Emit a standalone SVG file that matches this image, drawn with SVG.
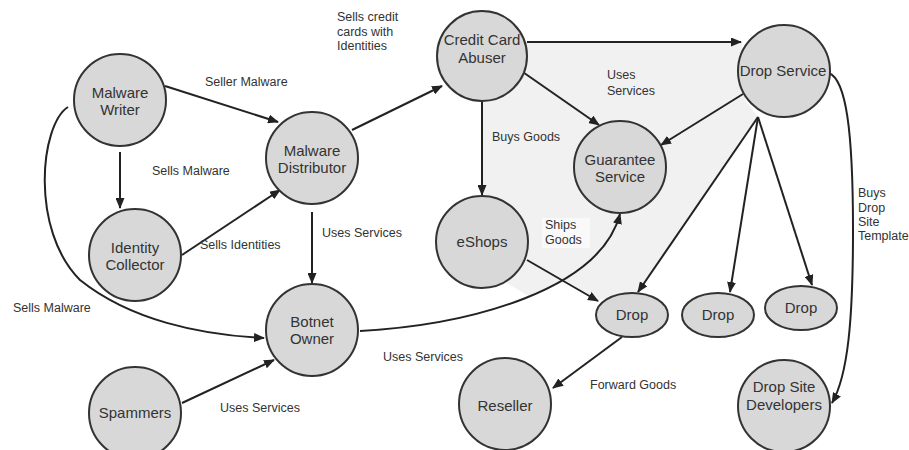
<svg xmlns="http://www.w3.org/2000/svg" width="909" height="450" viewBox="0 0 909 450">
<defs>
<style>
.n{fill:#d8d8d8;stroke:#333;stroke-width:2}
.nt{font-family:"Liberation Sans",Arial,sans-serif;font-size:15px;fill:#333;text-anchor:middle}
.e{fill:none;stroke:#222;stroke-width:2}
.a{marker-end:url(#ah)}
.l{font-family:"Liberation Sans",Arial,sans-serif;font-size:12.5px;fill:#333}
</style>
<marker id="ah" markerUnits="userSpaceOnUse" markerWidth="11" markerHeight="9" refX="10" refY="4.5" orient="auto">
<path d="M0,0 L11,4.5 L0,9 Z" fill="#222"/>
</marker>
</defs>
<rect width="909" height="450" fill="#fff"/>
<polygon points="483,42 742,42 745,100 758,117 640,292 598,300 566,281 530,297 505,282 483,240" fill="#f1f1f1"/>
<rect x="542" y="218" width="48" height="30" fill="#f9f9f9"/>

<g id="connectors">
<path class="e a" d="M165,86 L278,122"/>
<path class="e a" d="M120,152 L120,208"/>
<path class="e a" d="M182,255 L280,190"/>
<path class="e a" d="M312,212 L312,283"/>
<path class="e a" d="M352,130 L442,86"/>
<path class="e a" d="M68,107 C40,125 30,230 80,280 C130,320 200,335 264,338"/>
<path class="e a" d="M182,403 L274,360"/>
<path class="e a" d="M360,331 C470,325 600,290 620,214"/>
<path class="e a" d="M482,102 L482,195"/>
<path class="e a" d="M527,42 L741,42"/>
<path class="e a" d="M517,68 L599,125"/>
<path class="e a" d="M743,94 L661,145"/>
<path class="e a" d="M758,117 L638,292"/>
<path class="e a" d="M758,117 L730,292"/>
<path class="e a" d="M758,117 L812,285"/>
<path class="e a" d="M527,260 L598,301"/>
<path class="e a" d="M622,337 L553,388"/>
<path class="e a" d="M829,73 C846,80 853,130 853,230 C853,320 848,375 832,403"/>
</g>

<g id="malware-writer"><circle class="n" cx="120" cy="100" r="46"/><text class="nt" x="120" y="98">Malware</text><text class="nt" x="120" y="115">Writer</text></g>
<g id="identity-collector"><circle class="n" cx="135" cy="255" r="46"/><text class="nt" x="135" y="253">Identity</text><text class="nt" x="135" y="270">Collector</text></g>
<g id="malware-distributor"><circle class="n" cx="312" cy="158" r="46"/><text class="nt" x="312" y="156">Malware</text><text class="nt" x="312" y="173">Distributor</text></g>
<g id="botnet-owner"><circle class="n" cx="312" cy="330" r="46"/><text class="nt" x="312" y="327">Botnet</text><text class="nt" x="312" y="344">Owner</text></g>
<g id="spammers"><circle class="n" cx="135" cy="413" r="46"/><text class="nt" x="135" y="418">Spammers</text></g>
<g id="credit-card-abuser"><circle class="n" cx="482" cy="56" r="45"/><text class="nt" x="482" y="45">Credit Card</text><text class="nt" x="482" y="63">Abuser</text></g>
<g id="eshops"><circle class="n" cx="482" cy="242" r="46"/><text class="nt" x="482" y="247">eShops</text></g>
<g id="guarantee-service"><circle class="n" cx="620" cy="167" r="46"/><text class="nt" x="620" y="165">Guarantee</text><text class="nt" x="620" y="182">Service</text></g>
<g id="drop-service"><circle class="n" cx="784" cy="71" r="46"/><text class="nt" x="783" y="76">Drop Service</text></g>
<g id="drop-1"><ellipse class="n" cx="632" cy="315" rx="36" ry="22"/><text class="nt" x="632" y="320">Drop</text></g>
<g id="drop-2"><ellipse class="n" cx="718" cy="315" rx="36" ry="22"/><text class="nt" x="718" y="320">Drop</text></g>
<g id="drop-3"><ellipse class="n" cx="801" cy="308" rx="36" ry="22"/><text class="nt" x="801" y="313">Drop</text></g>
<g id="reseller"><circle class="n" cx="505" cy="404" r="46"/><text class="nt" x="505" y="411">Reseller</text></g>
<g id="drop-site-developers"><circle class="n" cx="784" cy="406" r="46"/><text class="nt" x="784" y="392">Drop Site</text><text class="nt" x="784" y="410">Developers</text></g>

<g id="labels">
<text class="l" x="205" y="86">Seller Malware</text>
<text class="l" x="152" y="175">Sells Malware</text>
<text class="l" x="200" y="249">Sells Identities</text>
<text class="l" x="13" y="312">Sells Malware</text>
<text class="l" x="322" y="237">Uses Services</text>
<text class="l" x="383" y="361">Uses Services</text>
<text class="l" x="220" y="412">Uses Services</text>
<text class="l" x="337" y="21">Sells credit</text>
<text class="l" x="337" y="36">cards with</text>
<text class="l" x="337" y="50">Identities</text>
<text class="l" x="492" y="141">Buys Goods</text>
<text class="l" x="607" y="79">Uses</text>
<text class="l" x="607" y="95">Services</text>
<text class="l" x="545" y="229">Ships</text>
<text class="l" x="545" y="244">Goods</text>
<text class="l" x="590" y="389">Forward Goods</text>
<text class="l" x="858" y="197">Buys</text>
<text class="l" x="858" y="212">Drop</text>
<text class="l" x="858" y="226">Site</text>
<text class="l" x="858" y="240">Template</text>
</g>
</svg>
